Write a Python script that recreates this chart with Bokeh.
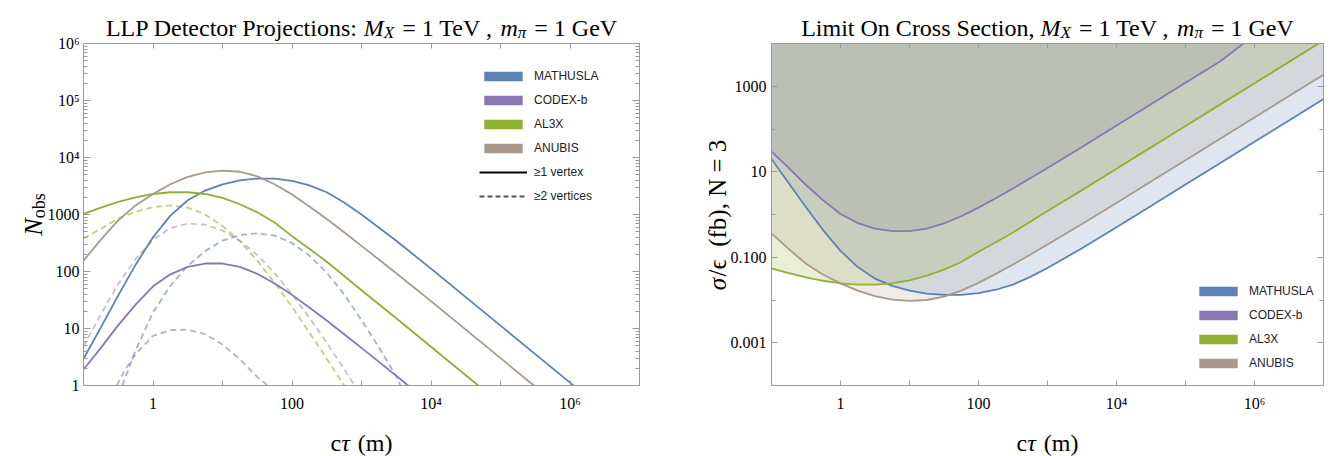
import numpy as np
from bokeh.plotting import figure
from bokeh.models import LogAxis, FixedTicker, Label, Legend, LegendItem, Range1d
from bokeh.layouts import row
from bokeh.embed import file_html
from bokeh.resources import INLINE

# ---------------- data (log10 values) ----------------
# left panel: log10(c tau [m]) and log10(N_obs)
mathusla_1v_lx = [-1, -0.75, -0.5, -0.25, 0, 0.25, 0.5, 0.75, 1, 1.25, 1.5, 1.75, 2, 2.25, 2.5, 2.75, 3, 3.5, 4, 4.5, 5, 5.5, 6, 6.05]
mathusla_1v_lN = [0.47, 1.02, 1.58, 2.12, 2.60, 2.98, 3.25, 3.42, 3.53, 3.60, 3.63, 3.63, 3.59, 3.51, 3.39, 3.21, 3.00, 2.54, 2.05, 1.55, 1.05, 0.55, 0.05, 0.0]
codex_1v_lx = [-1, -0.75, -0.5, -0.25, 0, 0.25, 0.5, 0.75, 1, 1.25, 1.5, 1.75, 2, 2.25, 2.5, 2.75, 3, 3.5, 3.67]
codex_1v_lN = [0.28, 0.66, 1.06, 1.42, 1.74, 1.95, 2.08, 2.14, 2.14, 2.08, 1.96, 1.79, 1.59, 1.37, 1.14, 0.90, 0.66, 0.17, 0.0]
al3x_1v_lx = [-1, -0.75, -0.5, -0.25, 0, 0.25, 0.5, 0.75, 1, 1.25, 1.5, 1.75, 2, 2.25, 2.5, 2.75, 3, 3.5, 4, 4.5, 4.68]
al3x_1v_lN = [3.01, 3.12, 3.22, 3.30, 3.36, 3.39, 3.39, 3.36, 3.29, 3.18, 3.04, 2.86, 2.62, 2.40, 2.17, 1.92, 1.67, 1.18, 0.68, 0.18, 0.0]
anubis_1v_lx = [-1, -0.75, -0.5, -0.25, 0, 0.25, 0.5, 0.75, 1, 1.25, 1.5, 1.75, 2, 2.25, 2.5, 2.75, 3, 3.5, 4, 4.5, 5, 5.48]
anubis_1v_lN = [2.19, 2.56, 2.90, 3.16, 3.36, 3.53, 3.66, 3.74, 3.77, 3.75, 3.67, 3.53, 3.35, 3.14, 2.92, 2.69, 2.45, 1.97, 1.48, 0.98, 0.48, 0.0]

mathusla_2v_lx = [-0.44, -0.25, 0, 0.25, 0.5, 0.75, 1, 1.25, 1.5, 1.75, 2, 2.25, 2.5, 2.75, 3, 3.25, 3.5, 3.56]
mathusla_2v_lN = [0.0, 0.62, 1.28, 1.75, 2.10, 2.36, 2.54, 2.64, 2.67, 2.63, 2.50, 2.28, 1.98, 1.60, 1.15, 0.67, 0.16, 0.0]
codex_2v_lx = [-0.52, -0.4, -0.25, 0, 0.25, 0.5, 0.75, 1, 1.25, 1.5, 1.65]
codex_2v_lN = [0.0, 0.28, 0.55, 0.87, 0.97, 0.98, 0.90, 0.72, 0.46, 0.15, 0.0]
al3x_2v_lx = [-1, -0.75, -0.5, -0.25, 0, 0.25, 0.5, 0.75, 1, 1.25, 1.5, 1.75, 2, 2.25, 2.5, 2.75]
al3x_2v_lN = [2.58, 2.75, 2.93, 3.05, 3.13, 3.16, 3.12, 3.00, 2.80, 2.53, 2.19, 1.80, 1.38, 0.93, 0.47, 0.0]
anubis_2v_lx = [-1, -0.75, -0.5, -0.25, 0, 0.25, 0.5, 0.75, 1, 1.25, 1.5, 1.75, 2, 2.25, 2.5, 2.75, 2.9]
anubis_2v_lN = [0.68, 1.25, 1.78, 2.22, 2.56, 2.76, 2.84, 2.82, 2.72, 2.54, 2.29, 1.97, 1.60, 1.19, 0.75, 0.29, 0.0]

# right panel: log10(c tau [m]) and log10(sigma/eps [fb]); curves end where they leave the frame
mathusla_lim_lx = [-1, -0.75, -0.5, -0.25, 0, 0.25, 0.5, 0.75, 1, 1.25, 1.5, 1.75, 2, 2.25, 2.5, 2.75, 3, 3.5, 4, 4.5, 5, 5.5, 6, 6.5, 7]
mathusla_lsig = [1.30, 0.73, 0.17, -0.37, -0.85, -1.23, -1.50, -1.67, -1.78, -1.85, -1.88, -1.88, -1.84, -1.76, -1.64, -1.46, -1.25, -0.79, -0.30, 0.20, 0.70, 1.20, 1.70, 2.20, 2.70]
codex_lim_lx = [-1, -0.75, -0.5, -0.25, 0, 0.25, 0.5, 0.75, 1, 1.25, 1.5, 1.75, 2, 2.25, 2.5, 2.75, 3, 3.5, 4, 4.5, 5, 5.5, 5.84]
codex_lsig = [1.47, 1.09, 0.69, 0.33, 0.01, -0.20, -0.33, -0.39, -0.39, -0.33, -0.21, -0.04, 0.16, 0.38, 0.61, 0.85, 1.09, 1.58, 2.08, 2.58, 3.08, 3.58, 4.0]
al3x_lim_lx = [-1, -0.75, -0.5, -0.25, 0, 0.25, 0.5, 0.75, 1, 1.25, 1.5, 1.75, 2, 2.25, 2.5, 2.75, 3, 3.5, 4, 4.5, 5, 5.5, 6, 6.5, 6.93]
al3x_lsig = [-1.26, -1.37, -1.47, -1.55, -1.61, -1.64, -1.64, -1.61, -1.54, -1.43, -1.29, -1.11, -0.87, -0.65, -0.42, -0.17, 0.08, 0.57, 1.07, 1.57, 2.07, 2.57, 3.07, 3.57, 4.0]
anubis_lim_lx = [-1, -0.75, -0.5, -0.25, 0, 0.25, 0.5, 0.75, 1, 1.25, 1.5, 1.75, 2, 2.25, 2.5, 2.75, 3, 3.5, 4, 4.5, 5, 5.5, 6, 6.5, 7]
anubis_lsig = [-0.44, -0.81, -1.15, -1.41, -1.61, -1.78, -1.91, -1.99, -2.02, -2.00, -1.92, -1.78, -1.60, -1.39, -1.17, -0.94, -0.70, -0.22, 0.27, 0.77, 1.27, 1.77, 2.27, 2.77, 3.27]

detectors = ["MATHUSLA", "CODEX-b", "AL3X", "ANUBIS"]
vertex_labels = ["\u22651 vertex", "\u22652 vertices"]
x_ticks = [0.1, 1.0, 10.0, 100.0, 1e3, 1e4, 1e5, 1e6, 1e7]
x_tick_labels = ["", "1", "", "100", "", "10\u2074", "", "10\u2076", ""]
ly_ticks = [1.0, 10.0, 100.0, 1e3, 1e4, 1e5, 1e6]
ly_tick_labels = ["1", "10", "100", "1000", "10\u2074", "10\u2075", "10\u2076"]
ry_ticks = [1e-3, 0.1, 10.0, 1e3]
ry_tick_labels = ["0.001", "0.100", "10", "1000"]
ry_minor = [1e-4, 1e-2, 1.0, 100.0, 1e4]

# ---------------- styling ----------------
COL = {"MATHUSLA": "#5E81B5", "CODEX-b": "#8778B3", "AL3X": "#8FB032", "ANUBIS": "#A8998A"}
SERIF = "Liberation Serif"
SANS = "Liberation Sans"
FRAME = "#9a9a9a"
H = 456
TOP, BOT, FH = 43, 71, 342   # visual frame placement inside each canvas

REG = {'L': .611, 'P': .556, ' ': .25, '\u00a0': .25, 'D': .722, 'e': .444, 't': .278, 'c': .444, 'o': .5,
       'r': .333, 'j': .278, 'i': .278, 'n': .5, 's': .389, ':': .278, '=': .564, '1': .5,
       'T': .611, 'V': .722, ',': .25, 'G': .722, 'm': .778, 'C': .667, 'O': .722, 'S': .556,
       '(': .333, ')': .333, 'f': .333, 'b': .5, 'N': .722, '3': .5, '/': .278, '\u03f5': .44}
ITA = {'M': .833, 'X': .611, 'm': .722, '\u03c0': .5, 'N': .667, '\u03c3': .55, '\u03c4': .44}


def twidth(s, size, style):
    tab = ITA if style == "italic" else REG
    return sum(tab.get(ch, REG.get(ch, .5)) for ch in s) * size


def pieces_len(pieces):
    return sum(pre + twidth(t, s, st) for t, st, s, sh, pre in pieces)


def compose(p, pieces, x0, y0, vertical=False):
    adv = 0.0
    for text, style, size, shift, pre in pieces:
        adv += pre
        if vertical:
            x, y, ang = x0 - shift, y0 + adv, np.pi / 2
        else:
            x, y, ang = x0 + adv, y0 + shift, 0.0
        p.add_layout(Label(x=float(x), y=float(y), x_units="screen", y_units="screen", text=text,
                           text_font=SERIF, text_font_size=f"{size}px", text_font_style=style,
                           angle=float(ang), text_align="left", text_baseline="alphabetic",
                           text_color="black"))
        adv += twidth(text, size, style)


def style_axis(ax, tick_in, minor_in, labels=True, standoff=5):
    ax.axis_line_color = FRAME
    ax.major_tick_line_color = FRAME
    ax.minor_tick_line_color = FRAME
    ax.major_tick_in = tick_in
    ax.major_tick_out = 0
    ax.minor_tick_in = minor_in
    ax.minor_tick_out = 0
    ax.major_label_text_font = SERIF
    ax.major_label_text_font_size = "16px" if labels else "0px"
    ax.major_label_text_color = "black"
    ax.major_label_standoff = standoff


def make_fig(width, fl, fr, xdec, ydec):
    fw = width - fl - fr
    px_x = fw / (xdec[1] - xdec[0])
    px_y = FH / (ydec[1] - ydec[0])
    xr = Range1d(10 ** (xdec[0] - fl / px_x), 10 ** (xdec[1] + fr / px_x))
    yr = Range1d(10 ** (ydec[0] - BOT / px_y), 10 ** (ydec[1] + TOP / px_y))
    p = figure(width=width, height=H, x_axis_type="log", y_axis_type="log",
               x_range=xr, y_range=yr, output_backend="svg", toolbar_location=None,
               min_border=0, min_border_left=0, min_border_right=0,
               min_border_top=0, min_border_bottom=0)
    p.grid.visible = False
    p.outline_line_color = None
    p.background_fill_color = "white"
    p.border_fill_color = "white"

    xb = (10.0 ** xdec[0], 10.0 ** xdec[1])
    yb = (10.0 ** ydec[0], 10.0 ** ydec[1])
    bx = p.xaxis[0]
    bx.fixed_location = yb[0]
    bx.bounds = xb
    by = p.yaxis[0]
    by.fixed_location = xb[0]
    by.bounds = yb
    tx = LogAxis(fixed_location=yb[1], bounds=xb)
    p.add_layout(tx, "above")
    ry = LogAxis(fixed_location=xb[1], bounds=yb)
    p.add_layout(ry, "right")
    return p, bx, by, tx, ry


def set_ticks(bx, by, tx, ry, yt, ylab, yminor, ytick_in, yminor_in, ystandoff):
    bx.ticker = FixedTicker(ticks=x_ticks, minor_ticks=[])
    bx.major_label_overrides = dict(zip(x_ticks, x_tick_labels))
    style_axis(bx, 5, 0, True, 9)
    tx.ticker = FixedTicker(ticks=x_ticks, minor_ticks=[])
    tx.major_label_overrides = {t: "" for t in x_ticks}
    style_axis(tx, 5, 0, False, 0)
    by.ticker = FixedTicker(ticks=yt, minor_ticks=yminor)
    by.major_label_overrides = dict(zip(yt, ylab))
    style_axis(by, ytick_in, yminor_in, True, ystandoff)
    ry.ticker = FixedTicker(ticks=yt, minor_ticks=yminor)
    ry.major_label_overrides = {t: "" for t in yt}
    style_axis(ry, ytick_in, yminor_in, False, 0)


def legend(p, entries, vx, vy):
    nan = float("nan")
    items = []
    for lab, kind, color, dash in entries:
        if kind == "box":
            r = p.quad(left=[nan], right=[nan], top=[nan], bottom=[nan],
                       fill_color=color, line_color=None)
        else:
            r = p.line(x=[nan, nan], y=[nan, nan], line_color=color, line_width=1.8, line_dash=dash)
        items.append(LegendItem(label=lab, renderers=[r]))
    leg = Legend(items=items, location=(vx, vy), glyph_width=48, glyph_height=12,
                 label_height=15, label_standoff=7, spacing=9, padding=0, margin=0,
                 border_line_alpha=0, background_fill_alpha=0,
                 label_text_font=SANS, label_text_font_size="12px", label_text_color="#222")
    p.add_layout(leg)


TF, SF = 24, 17

# ---------------- left panel (canvas x 0..687, visual frame 83..639) ----------------
W1, FL1, FR1 = 687, 83, 48
p1, bx1, by1, tx1, ry1 = make_fig(W1, FL1, FR1, (-1, 7), (0, 6))
set_ticks(bx1, by1, tx1, ry1, ly_ticks, ly_tick_labels,
          [k * 10.0 ** n for n in range(0, 6) for k in range(2, 10)], 7, 4, 4)

solid = [(mathusla_1v_lx, mathusla_1v_lN), (codex_1v_lx, codex_1v_lN),
         (al3x_1v_lx, al3x_1v_lN), (anubis_1v_lx, anubis_1v_lN)]
dashed = [(mathusla_2v_lx, mathusla_2v_lN), (codex_2v_lx, codex_2v_lN),
          (al3x_2v_lx, al3x_2v_lN), (anubis_2v_lx, anubis_2v_lN)]
for name, (lx, ln) in zip(detectors, dashed):
    p1.line(10 ** np.array(lx), 10 ** np.array(ln), line_color=COL[name], line_width=1.8,
            line_alpha=0.6, line_dash="6 4", line_join="round")
for name, (lx, ln) in zip(detectors, solid):
    p1.line(10 ** np.array(lx), 10 ** np.array(ln), line_color=COL[name], line_width=1.8,
            line_join="round")

# legend: first box centred at page y 75.7, pitch 24
legend(p1, [(d, "box", COL[d], "solid") for d in detectors] +
       [(vertex_labels[0], "line", "black", "solid"), (vertex_labels[1], "line", "#555555", "5 3")],
       479, H - (68 + 6 * 15 + 5 * 9))

title1 = [("LLP Detector Projections:", "normal", TF, 0, 0),
          ("M", "italic", TF, 0, 0.25 * TF),
          ("X", "italic", SF, -5, 0),
          ("= 1 TeV ,", "normal", TF, 0, 0.25 * TF + 2),
          ("m", "italic", TF, 0, 0.25 * TF),
          ("\u03c0", "italic", SF, -5, 0),
          ("= 1 GeV", "normal", TF, 0, 0.25 * TF + 2)]
cx1 = FL1 + (W1 - FL1 - FR1) / 2
compose(p1, title1, cx1 - pieces_len(title1) / 2, H - 27)
xl = [("c", "normal", TF, 0, 0), ("\u03c4", "italic", TF, 0, 0), ("(m)", "normal", TF, 0, 0.25 * TF)]
compose(p1, xl, cx1 - pieces_len(xl) / 2, H - 442)
yl1 = [("N", "italic", 26, 0, 0), ("obs", "normal", 18, -5, 0)]
cy = H - (TOP + FH / 2)
compose(p1, yl1, 33, cy - pieces_len(yl1) / 2, vertical=True)

# ---------------- right panel (canvas x 687..1339, visual frame 771..1323) ----------------
W2, FL2, FR2 = 652, 84, 16
p2, bx2, by2, tx2, ry2 = make_fig(W2, FL2, FR2, (-1, 7), (-4, 4))
set_ticks(bx2, by2, tx2, ry2, ry_ticks, ry_tick_labels, ry_minor, 6, 4, 5)

curves = [(mathusla_lim_lx, mathusla_lsig), (codex_lim_lx, codex_lsig),
          (al3x_lim_lx, al3x_lsig), (anubis_lim_lx, anubis_lsig)]
for name, (lx, s) in zip(detectors, curves):
    p2.varea(x=10 ** np.array(lx), y1=10 ** np.array(s), y2=1e4, fill_color=COL[name], fill_alpha=0.2)
for name, (lx, s) in zip(detectors, curves):
    p2.line(10 ** np.array(lx), 10 ** np.array(s), line_color=COL[name], line_width=1.8,
            line_join="round")

legend(p2, [(d, "box", COL[d], "solid") for d in detectors], 1194 - 687, H - (283 + 4 * 15 + 3 * 9))

title2 = [("Limit On Cross Section,", "normal", TF, 0, 0),
          ("M", "italic", TF, 0, 0.25 * TF),
          ("X", "italic", SF, -5, 0),
          ("= 1 TeV ,", "normal", TF, 0, 0.25 * TF + 2),
          ("m", "italic", TF, 0, 0.25 * TF),
          ("\u03c0", "italic", SF, -5, 0),
          ("= 1 GeV", "normal", TF, 0, 0.25 * TF + 2)]
cx2 = FL2 + (W2 - FL2 - FR2) / 2
compose(p2, title2, cx2 - pieces_len(title2) / 2, H - 27)
compose(p2, xl, cx2 - pieces_len(xl) / 2, H - 442)
yl2 = [("\u03c3", "italic", 25, 0, 0), ("/\u03f5\u00a0 (fb), N = 3", "normal", 25, 0, 0)]
compose(p2, yl2, 717 - 687, cy - pieces_len(yl2) / 2, vertical=True)

layout = row(p1, p2)
open("out.html", "w").write(file_html(layout, INLINE))
